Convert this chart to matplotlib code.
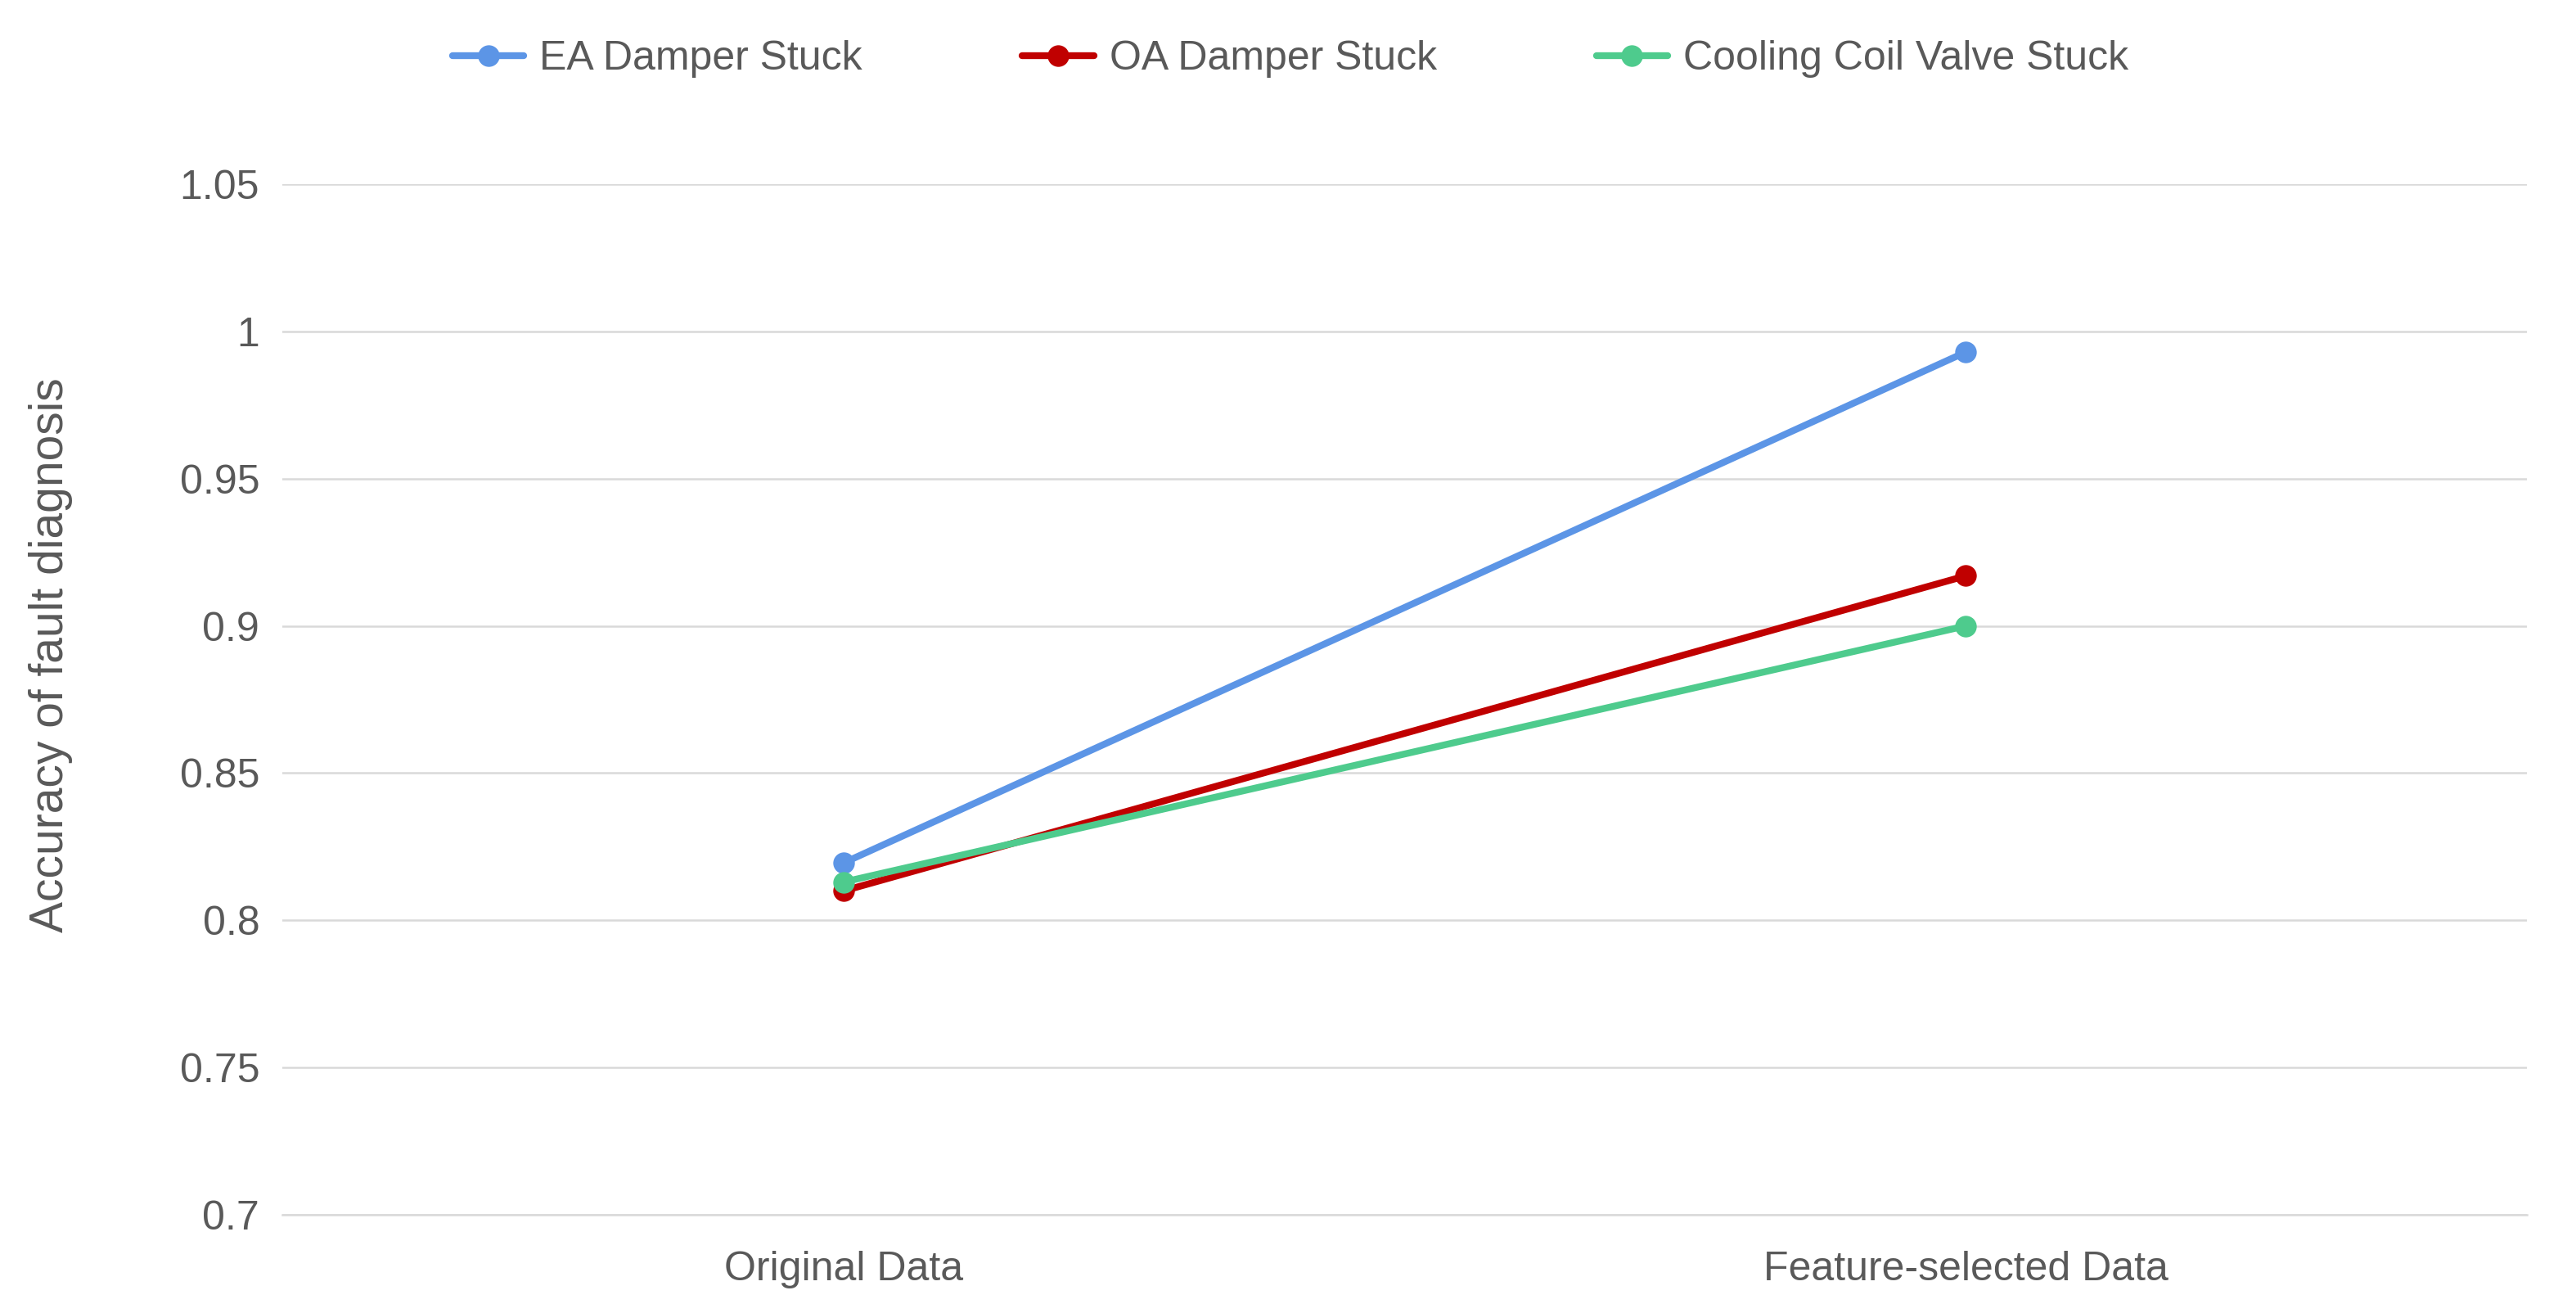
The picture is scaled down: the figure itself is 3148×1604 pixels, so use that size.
import matplotlib
matplotlib.use("Agg")
import matplotlib.pyplot as plt

categories = ["Original Data", "Feature-selected Data"]
series_names = ["EA Damper Stuck", "OA Damper Stuck", "Cooling Coil Valve Stuck"]
ea_values = [0.8195, 0.993]
oa_values = [0.810, 0.917]
cooling_values = [0.813, 0.900]
y_ticks = [0.7, 0.75, 0.8, 0.85, 0.9, 0.95, 1.0, 1.05]
y_tick_labels = ["0.7", "0.75", "0.8", "0.85", "0.9", "0.95", "1", "1.05"]
colors = ["#5c95e6", "#c00000", "#4ecb8d"]

plt.rcParams['font.family'] = ['Liberation Sans', 'DejaVu Sans']
text_color = "#595959"

fig = plt.figure(figsize=(15.74, 8.02), dpi=200)
ax = fig.add_axes([0.1096, 0.0748, 0.8714, 0.7849])

x = list(range(len(categories)))
lines = []
for vals, name, c in zip([ea_values, oa_values, cooling_values], series_names, colors):
    ln, = ax.plot(x, vals, color=c, lw=3.0, marker='o', markersize=8.5, label=name,
                  solid_capstyle='round')
    lines.append(ln)

ax.set_xlim(-0.5, 1.5)
ax.set_ylim(0.7, 1.05)
ax.set_yticks(y_ticks)
ax.set_yticklabels(y_tick_labels)
ax.set_xticks(x)
ax.set_xticklabels(categories)
ax.grid(axis='y', color='#d9d9d9', lw=0.9)
ax.set_axisbelow(True)
for s in ['top', 'right', 'left']:
    ax.spines[s].set_visible(False)
ax.spines['bottom'].set_color('#d9d9d9')
ax.spines['bottom'].set_linewidth(0.9)
ax.tick_params(axis='both', length=0, labelsize=18, colors=text_color)
ax.tick_params(axis='y', pad=10)
ax.tick_params(axis='x', pad=16)

fig.text(62/3148, 1-800/1604, "Accuracy of fault diagnosis", rotation=90,
         ha='center', va='center', fontsize=20.5, color=text_color)

leg = fig.legend(handles=lines, loc='center', bbox_to_anchor=(0.501, 1-72/1604),
                 ncol=3, frameon=False, fontsize=18, handlelength=1.75,
                 handletextpad=0.38, columnspacing=3.9, labelcolor=text_color)

fig.savefig("out.png", dpi=200)
